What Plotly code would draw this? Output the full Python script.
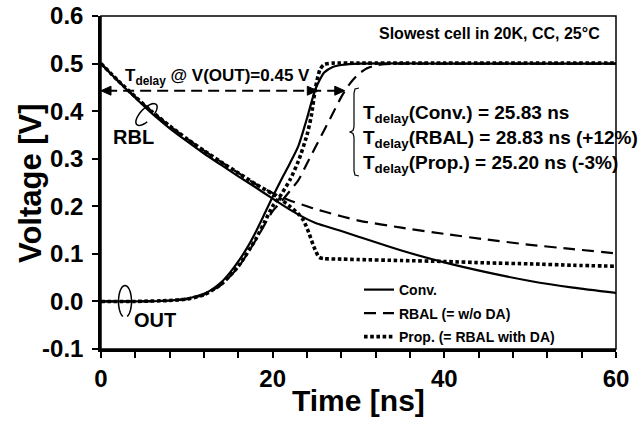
import math
import plotly.graph_objects as go

# ---------------- data ----------------
t_rbl_conv = [0, 2, 4, 6, 8, 10, 12, 14, 16, 18, 20, 22, 24, 25, 26, 28, 30, 35, 40, 45, 50, 55, 60]
v_rbl_conv = [0.500, 0.463, 0.428, 0.394, 0.364, 0.337, 0.311, 0.287, 0.263, 0.240, 0.216, 0.193, 0.173,
              0.165, 0.159, 0.148, 0.136, 0.107, 0.082, 0.061, 0.043, 0.029, 0.018]

t_rbl_rbal = [0, 2, 4, 6, 8, 10, 12, 14, 16, 18, 20, 22, 24, 25, 26, 28, 30, 35, 40, 45, 50, 55, 60]
v_rbl_rbal = [0.500, 0.464, 0.430, 0.398, 0.369, 0.342, 0.317, 0.293, 0.270, 0.247, 0.228, 0.212, 0.200,
              0.194, 0.189, 0.179, 0.170, 0.155, 0.142, 0.130, 0.119, 0.110, 0.101]

t_rbl_prop = [0, 2, 4, 6, 8, 10, 12, 14, 16, 18, 20, 21, 22, 23, 23.6, 24.2, 24.8, 25.4, 26, 28, 30,
              35, 40, 45, 50, 55, 60]
v_rbl_prop = [0.500, 0.464, 0.430, 0.398, 0.369, 0.342, 0.317, 0.293, 0.270, 0.247, 0.226, 0.214, 0.200,
              0.184, 0.170, 0.145, 0.115, 0.093, 0.090, 0.089, 0.088, 0.086, 0.084, 0.081, 0.079, 0.076, 0.074]

t_out_conv = [0, 4, 8, 10, 12, 13, 14, 15, 16, 17, 18, 19, 20, 21, 22, 23, 24, 25, 26, 27, 28, 30, 40, 50, 60]
v_out_conv = [0.0, 0.0, 0.002, 0.006, 0.016, 0.026, 0.040, 0.060, 0.084, 0.112, 0.145, 0.182, 0.220, 0.256,
              0.290, 0.327, 0.385, 0.447, 0.481, 0.493, 0.497, 0.500, 0.500, 0.500, 0.500]

t_out_rbal = [0, 4, 8, 10, 12, 14, 16, 18, 20, 21, 22, 23, 24, 25, 26, 27, 28, 29, 30, 31, 32, 33, 40, 50, 60]
v_out_rbal = [0.0, 0.0, 0.002, 0.005, 0.014, 0.035, 0.072, 0.128, 0.190, 0.210, 0.232, 0.255, 0.290, 0.325,
              0.360, 0.395, 0.430, 0.458, 0.478, 0.490, 0.496, 0.499, 0.500, 0.500, 0.500]

t_out_prop = [0, 4, 8, 10, 12, 14, 16, 18, 19, 20, 21, 22, 23, 24, 24.5, 25, 25.5, 26, 27, 30, 40, 50, 60]
v_out_prop = [0.0, 0.0, 0.002, 0.005, 0.014, 0.036, 0.074, 0.130, 0.165, 0.200, 0.225, 0.255, 0.295, 0.350,
              0.390, 0.450, 0.487, 0.498, 0.501, 0.501, 0.501, 0.501, 0.501]

series_names = ["Conv.", "RBAL (= w/o DA)", "Prop. (= RBAL with DA)"]
delay_labels = ["T<sub>delay</sub>(Conv.) = 25.83 ns",
                "T<sub>delay</sub>(RBAL) = 28.83 ns (+12%)",
                "T<sub>delay</sub>(Prop.) = 25.20 ns (-3%)"]
x_ticks = [0, 20, 40, 60]
y_ticks = [-0.1, 0.0, 0.1, 0.2, 0.3, 0.4, 0.5, 0.6]

# ---------------- layout constants ----------------
W, H = 643, 422
ML, MR, MT, MB = 101, 27, 16, 73
X_RANGE = [0, 60]
Y_RANGE = [-0.1, 0.6]
FONT = "Liberation Sans, Arial, sans-serif"
BLACK = "#000000"


def px_t(px):
    return X_RANGE[0] + (px - ML) / (W - ML - MR) * (X_RANGE[1] - X_RANGE[0])


def py_v(py):
    return Y_RANGE[1] - (py - MT) / (H - MT - MB) * (Y_RANGE[1] - Y_RANGE[0])


def t_px(t):
    return ML + (t - X_RANGE[0]) / (X_RANGE[1] - X_RANGE[0]) * (W - ML - MR)


def v_py(v):
    return MT + (Y_RANGE[1] - v) / (Y_RANGE[1] - Y_RANGE[0]) * (H - MT - MB)


styles = [
    dict(color=BLACK, width=2.2, dash="solid"),
    dict(color=BLACK, width=2.2, dash="12px,7px"),
    dict(color=BLACK, width=3.6, dash="3.6px,2.6px"),
]
legend_ids = ["legend", "legend2", "legend3"]

fig = go.Figure()
rbl = [(t_rbl_conv, v_rbl_conv), (t_rbl_rbal, v_rbl_rbal), (t_rbl_prop, v_rbl_prop)]
out = [(t_out_conv, v_out_conv), (t_out_rbal, v_out_rbal), (t_out_prop, v_out_prop)]
for i in range(3):
    fig.add_trace(go.Scatter(x=rbl[i][0], y=rbl[i][1], mode="lines", name=series_names[i],
                             line=dict(shape="spline", smoothing=0.6, **styles[i]),
                             legendgroup=series_names[i], legend=legend_ids[i], showlegend=True))
    fig.add_trace(go.Scatter(x=out[i][0], y=out[i][1], mode="lines", name=series_names[i],
                             line=dict(shape="spline", smoothing=0.6, **styles[i]),
                             legendgroup=series_names[i], legend=legend_ids[i], showlegend=False))

shapes = []
annotations = []

# frame (thin top/right)
shapes.append(dict(type="rect", xref="x domain", yref="y domain", x0=0, x1=1, y0=0, y1=1,
                   line=dict(color=BLACK, width=1.5), layer="below"))

# dashed arrow line at V(OUT)=0.443
arrow_y = 0.443
shapes.append(dict(type="line", xref="x", yref="y", x0=0.6, x1=27.6, y0=arrow_y, y1=arrow_y,
                   line=dict(color=BLACK, width=2, dash="11px,6px")))


def path_from_px(pts, close=False):
    s = "M " + " L ".join(f"{px_t(x):.4f},{py_v(y):.5f}" for x, y in pts)
    return s + (" Z" if close else "")


# arrowheads (filled triangles)
ay_px = v_py(arrow_y)
for tip_t, direction in [(0.0, -1), (25.2, 1), (28.4, 1)]:
    tx = t_px(tip_t)
    L, hw = 10, 4.5
    pts = [(tx, ay_px), (tx - direction * L, ay_px - hw), (tx - direction * L, ay_px + hw)]
    shapes.append(dict(type="path", xref="x", yref="y", path=path_from_px(pts, True),
                       fillcolor=BLACK, line=dict(color=BLACK, width=1)))

# brace
bx0, bx1 = 359, 354
by0, bym, by1 = 88, 132, 176
pts = [(bx0, by0), (bx1 + 1, by0 + 1), (bx1, by0 + 5), (bx1, bym - 5), (bx1 - 1, bym - 1.5), (bx1 - 4, bym),
       (bx1 - 1, bym + 1.5), (bx1, bym + 5), (bx1, by1 - 5), (bx1 + 1, by1 - 1), (bx0, by1)]
shapes.append(dict(type="path", xref="x", yref="y", path=path_from_px(pts), line=dict(color=BLACK, width=1.2)))


def ellipse_path(cx, cy, a, b, ang_deg, th0, th1, n=40):
    ang = math.radians(ang_deg)
    ux, uy = math.cos(ang), math.sin(ang)
    wx, wy = -uy, ux
    seg = []
    for k in range(n + 1):
        th = math.radians(th0 + (th1 - th0) * k / n)
        seg.append((cx + a * math.cos(th) * ux + b * math.sin(th) * wx,
                    cy + a * math.cos(th) * uy + b * math.sin(th) * wy))
    return path_from_px(seg)


# loop around RBL lines
shapes.append(dict(type="path", xref="x", yref="y", line=dict(color=BLACK, width=1.5),
                   path=ellipse_path(146.5, 114.5, 14, 6, -46, 110, 430)))
# loop around OUT lines
shapes.append(dict(type="path", xref="x", yref="y", line=dict(color=BLACK, width=1.5),
                   path=ellipse_path(125, 301.5, 16, 6.5, 90, 20, 340)))

# texts
bold = lambda s: dict(family=FONT, size=s, color=BLACK, weight="bold")
annotations.append(dict(x=px_t(123), y=py_v(77), xref="x", yref="y", xanchor="left", yanchor="middle",
                        text="T<sub>delay</sub> @ V(OUT)=0.45 V", showarrow=False, font=bold(17)))
for i, lab in enumerate(delay_labels):
    annotations.append(dict(x=px_t(361), y=py_v(114 + 25 * i), xref="x", yref="y", xanchor="left",
                            yanchor="middle", text=lab, showarrow=False, font=bold(19)))
annotations.append(dict(x=px_t(602), y=py_v(33), xref="x", yref="y", xanchor="right", yanchor="middle",
                        text="Slowest cell in 20K, CC, 25°C", showarrow=False, font=bold(16)))
annotations.append(dict(x=px_t(111), y=py_v(137), xref="x", yref="y", xanchor="left", yanchor="middle",
                        text="RBL", showarrow=False, font=bold(20)))
annotations.append(dict(x=px_t(132), y=py_v(320), xref="x", yref="y", xanchor="left", yanchor="middle",
                        text="OUT", showarrow=False, font=bold(20)))
# axis titles
annotations.append(dict(x=px_t(358), y=0, xref="x", yref="paper", xanchor="center", yanchor="middle",
                        yshift=-(400 - (H - MB)), text="Time [ns]", showarrow=False, font=bold(30)))
annotations.append(dict(x=0, y=py_v(183), xref="paper", yref="y", xanchor="center", yanchor="middle",
                        xshift=-(ML - 30), textangle=-90, text="Voltage [V]", showarrow=False, font=bold(31)))

legend_rows = [290, 313.5, 337]
leg_x = (359 - ML) / (W - ML - MR)
legends = {}
for lid, row in zip(legend_ids, legend_rows):
    legends[lid] = dict(x=leg_x, y=(H - MB - row) / (H - MT - MB), xanchor="left", yanchor="middle",
                        bgcolor="rgba(0,0,0,0)", borderwidth=0, font=bold(14))

fig.update_layout(
    width=W, height=H,
    margin=dict(l=ML, r=MR, t=MT, b=MB, pad=0),
    paper_bgcolor="white", plot_bgcolor="white",
    font=dict(family=FONT, color=BLACK),
    showlegend=True,
    shapes=shapes, annotations=annotations,
    **legends,
)
fig.update_xaxes(range=X_RANGE, tickvals=x_ticks, ticktext=[str(v) for v in x_ticks],
                 showgrid=False, zeroline=False, showline=True, linecolor=BLACK, linewidth=2.5,
                 ticks="outside", ticklen=6, tickwidth=2, tickcolor=BLACK,
                 minor=dict(dtick=4, tick0=0, ticks="outside", ticklen=6, tickwidth=1.5, tickcolor=BLACK,
                            showgrid=False),
                 tickfont=bold(24), automargin=False)
fig.update_yaxes(range=Y_RANGE, tickvals=y_ticks, ticktext=[f"{v:.1f}" for v in y_ticks],
                 showgrid=False, zeroline=False, showline=True, linecolor=BLACK, linewidth=2.5,
                 ticks="outside", ticklen=6, tickwidth=2, tickcolor=BLACK,
                 tickfont=bold(24), ticklabelstandoff=4, automargin=False)

fig.write_html("out.html")
